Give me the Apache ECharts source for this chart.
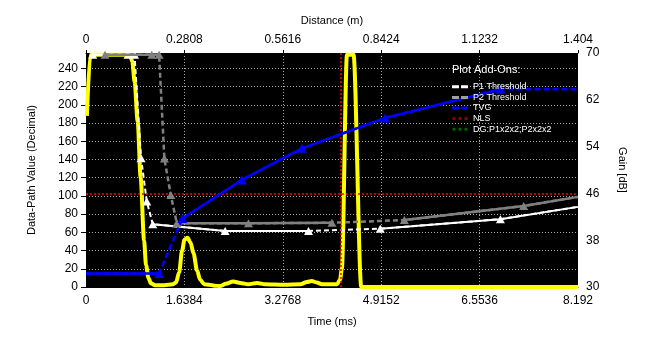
<!DOCTYPE html>
<html>
<head>
<meta charset="utf-8">
<script src="https://cdn.jsdelivr.net/npm/echarts@6/dist/echarts.min.js"></script>
<style>
  html, body { margin: 0; padding: 0; background: #fff; }
  #chart { width: 657px; height: 342px; }
</style>
</head>
<body>
<div id="chart"></div>
<script>
// Axis tick labels
const timeTicks = ['0', '1.6384', '3.2768', '4.9152', '6.5536', '8.192'];
const distTicks = ['0', '0.2808', '0.5616', '0.8424', '1.1232', '1.404'];

// Echo data-path trace (time in ms, decimal value)
const echoTime = [0.015, 0.07, 0.73, 0.77, 0.81, 0.86, 0.91, 0.967, 1.0, 1.04, 1.08, 1.15, 1.3, 1.45, 1.5, 1.55, 1.6, 1.64, 1.69, 1.74, 1.79, 1.85, 1.9, 1.97, 2.05, 2.14, 2.23, 2.33, 2.45, 2.57, 2.7, 2.85, 2.98, 3.3, 3.57, 3.68, 3.76, 3.84, 3.93, 4.18, 4.23, 4.26, 4.345, 4.455, 4.583, 8.192];
const echoValue = [188, 255, 255, 248, 225, 182, 120, 51, 24, 10, 4, 2, 2, 3, 5, 16, 40, 52, 54, 49, 37, 18, 8, 3, 2.5, 1.5, 1, 3.5, 6, 4.5, 3, 4.5, 3, 2.5, 3, 5.5, 6.5, 5, 3, 3, 8, 20, 255, 255, 0, 0];

// Preset 1 threshold
const p1Time = [0.112, 0.70, 0.808, 0.917, 1.012, 1.112, 2.317, 3.705, 4.9, 6.9, 8.192];
const p1Value = [255, 255, 255, 141.5, 94, 69, 61.5, 61.5, 64, 74.5, 88];

// Preset 2 threshold
const p2Time = [0.317, 1.095, 1.217, 1.305, 1.412, 1.512, 2.705, 4.095, 5.3, 7.288, 8.192];
const p2Value = [255, 255, 255, 141, 101, 70, 70, 70.5, 73.5, 89, 99];

// Time-varying gain (dB)
const tvgTime = [0, 1.217, 1.605, 2.595, 3.595, 4.983, 6.9, 8.192];
const tvgGain = [32.3, 32.3, 41.7, 48.3, 53.7, 58.9, 63.8, 63.8];

// Non-linear scaling markers
const nlsLevel = 102;
const nlsTime = 4.24;

const FONT = '"Liberation Sans", Arial, sans-serif';
const TIME_STEP = 1.6384;
const DIST_STEP = 0.2808;

const pairs = (xs, ys) => xs.map((x, i) => [x, ys[i]]);
const slicePairs = (xs, ys, from, to) => xs.slice(from, to + 1).map((x, i) => [x, ys[from + i]]);
// points with a triangle marker, except the given indices
const marked = (xs, ys, plain) => xs.map((x, i) =>
  plain.includes(i) ? { value: [x, ys[i]], symbol: 'none' } : [x, ys[i]]);

function thresholdSeries(name, xs, ys, color, width, solidSpans, zBase) {
  const out = [];
  solidSpans.forEach(([a, b], k) => {
    out.push({
      name: name + '-solid-' + k, type: 'line', xAxisIndex: 0, yAxisIndex: 0,
      data: slicePairs(xs, ys, a, b), showSymbol: false, z: zBase,
      lineStyle: { color: color, width: width }, itemStyle: { color: color }
    });
  });
  out.push({
    name: name, type: 'line', xAxisIndex: 0, yAxisIndex: 0,
    data: marked(xs, ys, [xs.length - 1]), symbol: 'triangle', symbolSize: [9, 8],
    showAllSymbol: true, z: zBase + 1,
    lineStyle: { color: color, width: width, type: [5, 3] },
    itemStyle: { color: color }
  });
  return out;
}

const series = [];
series.push({
  name: 'Echo', type: 'line', xAxisIndex: 0, yAxisIndex: 0,
  data: pairs(echoTime, echoValue), showSymbol: false, smooth: 0.3, smoothMonotone: 'x',
  lineStyle: { color: '#ffff00', width: 4 }, itemStyle: { color: '#ffff00' }, z: 2
});
series.push(...thresholdSeries('P1 Threshold', p1Time, p1Value, '#ffffff', 2, [[0, 2], [5, 7], [8, 10]], 3));
series.push(...thresholdSeries('P2 Threshold', p2Time, p2Value, '#808080', 2.5, [[0, 2], [5, 7], [8, 10]], 5));

// TVG: solid and dashed parts
[[0, 1], [2, 6]].forEach(([a, b], k) => {
  series.push({
    name: 'TVG-solid-' + k, type: 'line', xAxisIndex: 0, yAxisIndex: 1,
    data: slicePairs(tvgTime, tvgGain, a, b), showSymbol: false, z: 7,
    lineStyle: { color: '#0000ff', width: 2.5 }, itemStyle: { color: '#0000ff' }
  });
});
series.push({
  name: 'TVG', type: 'line', xAxisIndex: 0, yAxisIndex: 1,
  data: marked(tvgTime, tvgGain, [0, tvgTime.length - 1]), symbol: 'triangle', symbolSize: [10, 9],
  showAllSymbol: true, z: 8,
  lineStyle: { color: '#0000ff', width: 2.5, type: [6, 3] }, itemStyle: { color: '#0000ff' }
});

series.push({
  name: 'NLS', type: 'line', xAxisIndex: 0, yAxisIndex: 0, data: [], z: 9,
  itemStyle: { color: '#8b0000' },
  markLine: {
    silent: true, symbol: ['none', 'none'], label: { show: false }, animation: false,
    lineStyle: { color: '#ff0000', width: 1.5, type: [2, 2] },
    data: [{ yAxis: nlsLevel }, { xAxis: nlsTime }]
  }
});
series.push({
  name: 'DG:P1x2x2;P2x2x2', type: 'line', xAxisIndex: 0, yAxisIndex: 0, data: [],
  itemStyle: { color: '#006400' }
});

const dashIcon = 'path://M0,0H7V3H0Z M9,0H16V3H9Z';
const dotIcon = 'path://M0,0H3V3H0Z M6,0H9V3H6Z M12,0H15V3H12Z';

const axisText = { color: '#000', fontSize: 12, fontFamily: FONT };
const nameText = { color: '#000', fontSize: 11, fontFamily: FONT };
const gridDots = { show: true, showMinLine: false, showMaxLine: false,
  lineStyle: { color: '#a8a8a8', width: 1, type: [1, 2] } };

const chart = echarts.init(document.getElementById('chart'), null, { renderer: 'canvas' });
chart.setOption({
  animation: false,
  backgroundColor: '#ffffff',
  title: {
    text: 'Plot Add-Ons:', left: 452, top: 64, padding: 0, z: 20,
    textStyle: { color: '#ffffff', fontSize: 11, fontWeight: 'normal', fontFamily: FONT }
  },
  legend: {
    orient: 'vertical', left: 452, top: 81.5, padding: 0, itemGap: 0, z: 20,
    itemWidth: 16, itemHeight: 3, selectedMode: false,
    textStyle: { color: '#ffffff', fontSize: 9, lineHeight: 10.6, fontFamily: FONT },
    data: [
      { name: 'P1 Threshold', icon: dashIcon, itemStyle: { color: '#ffffff' } },
      { name: 'P2 Threshold', icon: dashIcon, itemStyle: { color: '#a0a0a0' } },
      { name: 'TVG', icon: dashIcon, itemStyle: { color: '#0000ff' } },
      { name: 'NLS', icon: dotIcon, itemStyle: { color: '#8b0000' } },
      { name: 'DG:P1x2x2;P2x2x2', icon: dotIcon, itemStyle: { color: '#006400' } }
    ]
  },
  grid: {
    left: 86, right: 79, top: 53, bottom: 55,
    show: true, backgroundColor: '#000000', borderWidth: 0
  },
  xAxis: [
    {
      type: 'value', position: 'bottom', min: 0, max: 8.192, interval: TIME_STEP,
      name: 'Time (ms)', nameLocation: 'middle', nameGap: 29, nameTextStyle: nameText,
      axisLine: { show: true, lineStyle: { color: '#000' } },
      axisTick: { show: false },
      axisLabel: { ...axisText, margin: 8,
        formatter: v => timeTicks[Math.round(v / TIME_STEP)] },
      splitLine: gridDots
    },
    {
      type: 'value', position: 'top', min: 0, max: 1.404, interval: DIST_STEP,
      name: 'Distance (m)', nameLocation: 'middle', nameGap: 27, nameTextStyle: nameText,
      axisLine: { show: true, lineStyle: { color: '#000' } },
      axisTick: { show: true, length: 3, lineStyle: { color: '#000' } },
      axisLabel: { ...axisText, margin: 7,
        formatter: v => distTicks[Math.round(v / DIST_STEP)] },
      splitLine: { show: false }
    }
  ],
  yAxis: [
    {
      type: 'value', position: 'left', min: 0, max: 257, interval: 20,
      name: 'Data-Path Value (Decimal)', nameLocation: 'middle', nameRotate: 90, nameGap: 49,
      nameTextStyle: nameText,
      axisLine: { show: true, lineStyle: { color: '#000' } },
      axisTick: { show: true, length: 5, lineStyle: { color: '#000' } },
      axisLabel: { ...axisText, margin: 8, showMaxLabel: false },
      splitLine: gridDots
    },
    {
      type: 'value', position: 'right', min: 30, max: 70, interval: 8,
      name: 'Gain [dB]', nameLocation: 'middle', nameRotate: -90, nameGap: 39,
      nameTextStyle: nameText,
      axisLine: { show: true, lineStyle: { color: '#000' } },
      axisTick: { show: true, length: 6, lineStyle: { color: '#000' } },
      axisLabel: { ...axisText, margin: 8 },
      splitLine: { show: false }
    }
  ],
  series: series
});
</script>
</body>
</html>
